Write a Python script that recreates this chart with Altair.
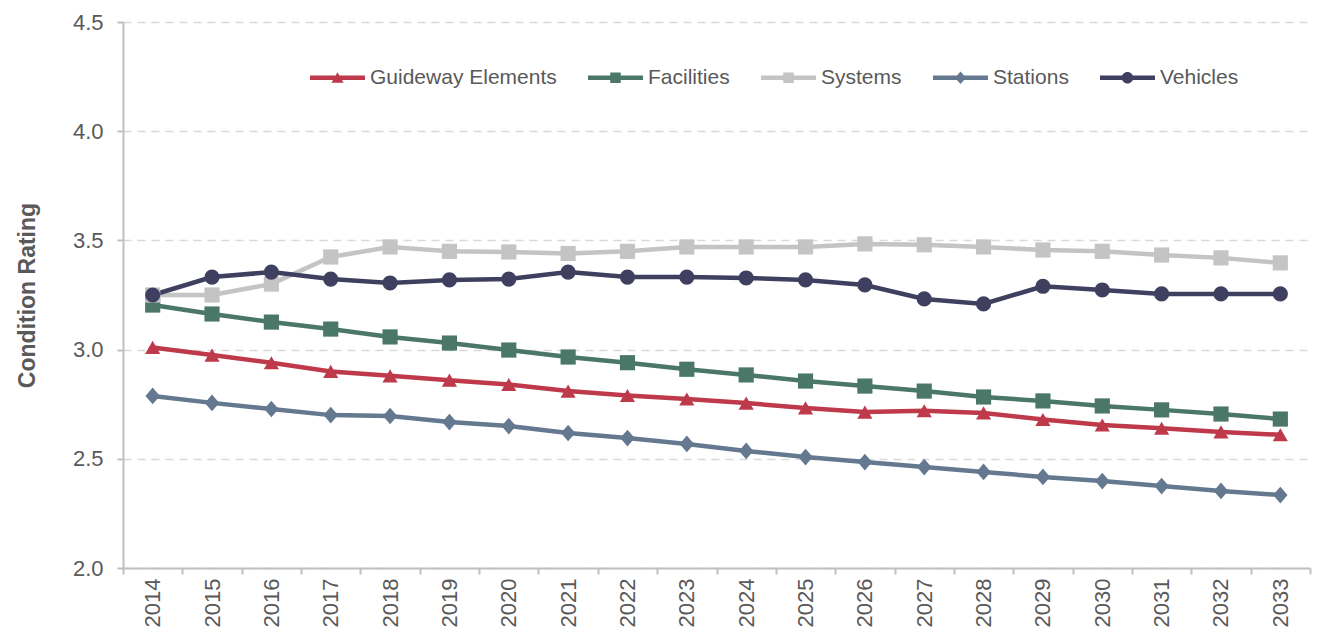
import altair as alt
import pandas as pd

years = [str(y) for y in range(2014, 2034)]
series_names = ["Guideway Elements", "Facilities", "Systems", "Stations", "Vehicles"]
colors = ["#BE3A4A", "#4A7767", "#C4C4C4", "#64788F", "#3F405F"]
shapes = ["triangle-up", "square", "square", "M0,-1.1L0.95,0L0,1.1L-0.95,0Z", "circle"]

# legend symbols: a line segment with the series marker on it
LINE = "M-1,-0.08H1V0.08H-1Z"
legend_shapes = [
    LINE + "M0,-0.2L0.22,0.18L-0.22,0.18Z",
    LINE + "M-0.19,-0.19H0.19V0.19H-0.19Z",
    LINE + "M-0.19,-0.19H0.19V0.19H-0.19Z",
    LINE + "M0,-0.23L0.2,0L0,0.23L-0.2,0Z",
    LINE + "M-0.21,0A0.21,0.21 0 1,1 0.21,0A0.21,0.21 0 1,1 -0.21,0Z",
]

guideway = [3.01, 2.975, 2.94, 2.90, 2.88, 2.86, 2.84, 2.81, 2.79, 2.774, 2.755, 2.733,
            2.714, 2.72, 2.71, 2.68, 2.655, 2.64, 2.623, 2.61]
facilities = [3.204, 3.163, 3.126, 3.094, 3.058, 3.03, 2.998, 2.966, 2.94, 2.91, 2.884, 2.856,
              2.833, 2.81, 2.783, 2.765, 2.742, 2.724, 2.705, 2.682]
systems = [3.25, 3.25, 3.30, 3.424, 3.47, 3.45, 3.447, 3.44, 3.45, 3.47, 3.47, 3.47,
           3.484, 3.48, 3.47, 3.456, 3.45, 3.433, 3.42, 3.397]
stations = [2.788, 2.756, 2.728, 2.70, 2.696, 2.668, 2.65, 2.618, 2.595, 2.568, 2.536, 2.508,
            2.485, 2.462, 2.44, 2.417, 2.398, 2.375, 2.353, 2.334]
vehicles = [3.25, 3.332, 3.355, 3.323, 3.305, 3.319, 3.323, 3.355, 3.332, 3.332, 3.328, 3.319,
            3.296, 3.232, 3.209, 3.29, 3.273, 3.255, 3.255, 3.255]

values = [guideway, facilities, systems, stations, vehicles]
rows = []
for name, vals in zip(series_names, values):
    for y, v in zip(years, vals):
        rows.append({"Year": y, "Series": name, "SeriesL": name, "Rating": v})
df = pd.DataFrame(rows)

FONT = "Liberation Sans"
TXT = "#595959"
AX = "#BFBFBF"

x = alt.X("Year:O", title=None,
          scale=alt.Scale(type="band", paddingInner=0, paddingOuter=0),
          axis=alt.Axis(labelAngle=-90, labelFontSize=22, labelColor=TXT, labelFont=FONT,
                        labelAlign="right", labelBaseline="middle", labelPadding=4,
                        tickBand="extent", tickColor=AX, tickSize=6,
                        domainColor=AX, domainWidth=2, tickWidth=2, grid=False))
y = alt.Y("Rating:Q", title="Condition Rating",
          scale=alt.Scale(domain=[2.0, 4.5], nice=False, zero=False),
          axis=alt.Axis(values=[2.0, 2.5, 3.0, 3.5, 4.0, 4.5], format=".1f",
                        labelFontSize=22, labelColor=TXT, labelFont=FONT, labelPadding=14,
                        tickColor=AX, tickSize=6, tickWidth=2,
                        domainColor=AX, domainWidth=2,
                        gridColor="#D9D9D9", gridDash=[8, 6], gridWidth=1.5,
                        titleFontSize=23, titleFont=FONT, titleColor=TXT, titleFontWeight="bold",
                        titlePadding=33))

color = alt.Color("Series:N", scale=alt.Scale(domain=series_names, range=colors), legend=None)
shape = alt.Shape("Series:N", scale=alt.Scale(domain=series_names, range=shapes), legend=None)

base = alt.Chart(df)
lines = base.mark_line(strokeWidth=4.5).encode(x=x, y=y, color=color, detail="Series:N")
points = base.mark_point(filled=True, size=230, opacity=1).encode(x=x, y=y, color=color, shape=shape)

legend = alt.Legend(title=None, orient="none", direction="horizontal",
                    legendX=187, legendY=28, padding=0,
                    labelFontSize=21, labelFont=FONT, labelColor=TXT, labelLimit=0,
                    symbolSize=3025, columnPadding=31, labelOffset=5,
                    symbolStrokeWidth=0, symbolOpacity=1)
legend_layer = base.transform_filter("false").mark_point(filled=True, opacity=1).encode(
    x=x, y=y,
    color=alt.Color("SeriesL:N", sort=series_names,
                    scale=alt.Scale(domain=series_names, range=colors), legend=legend),
    shape=alt.Shape("SeriesL:N", sort=series_names,
                    scale=alt.Scale(domain=series_names, range=legend_shapes), legend=legend),
)

chart = alt.layer(lines, points, legend_layer).resolve_scale(
    color="independent", shape="independent"
).properties(
    width=1187, height=546,
    autosize=alt.AutoSizeParams(type="none"),
    padding={"left": 123, "top": 22, "right": 8, "bottom": 69},
).configure_view(stroke=None)

chart.save("out.html", embed_options={"renderer": "svg", "actions": False})
